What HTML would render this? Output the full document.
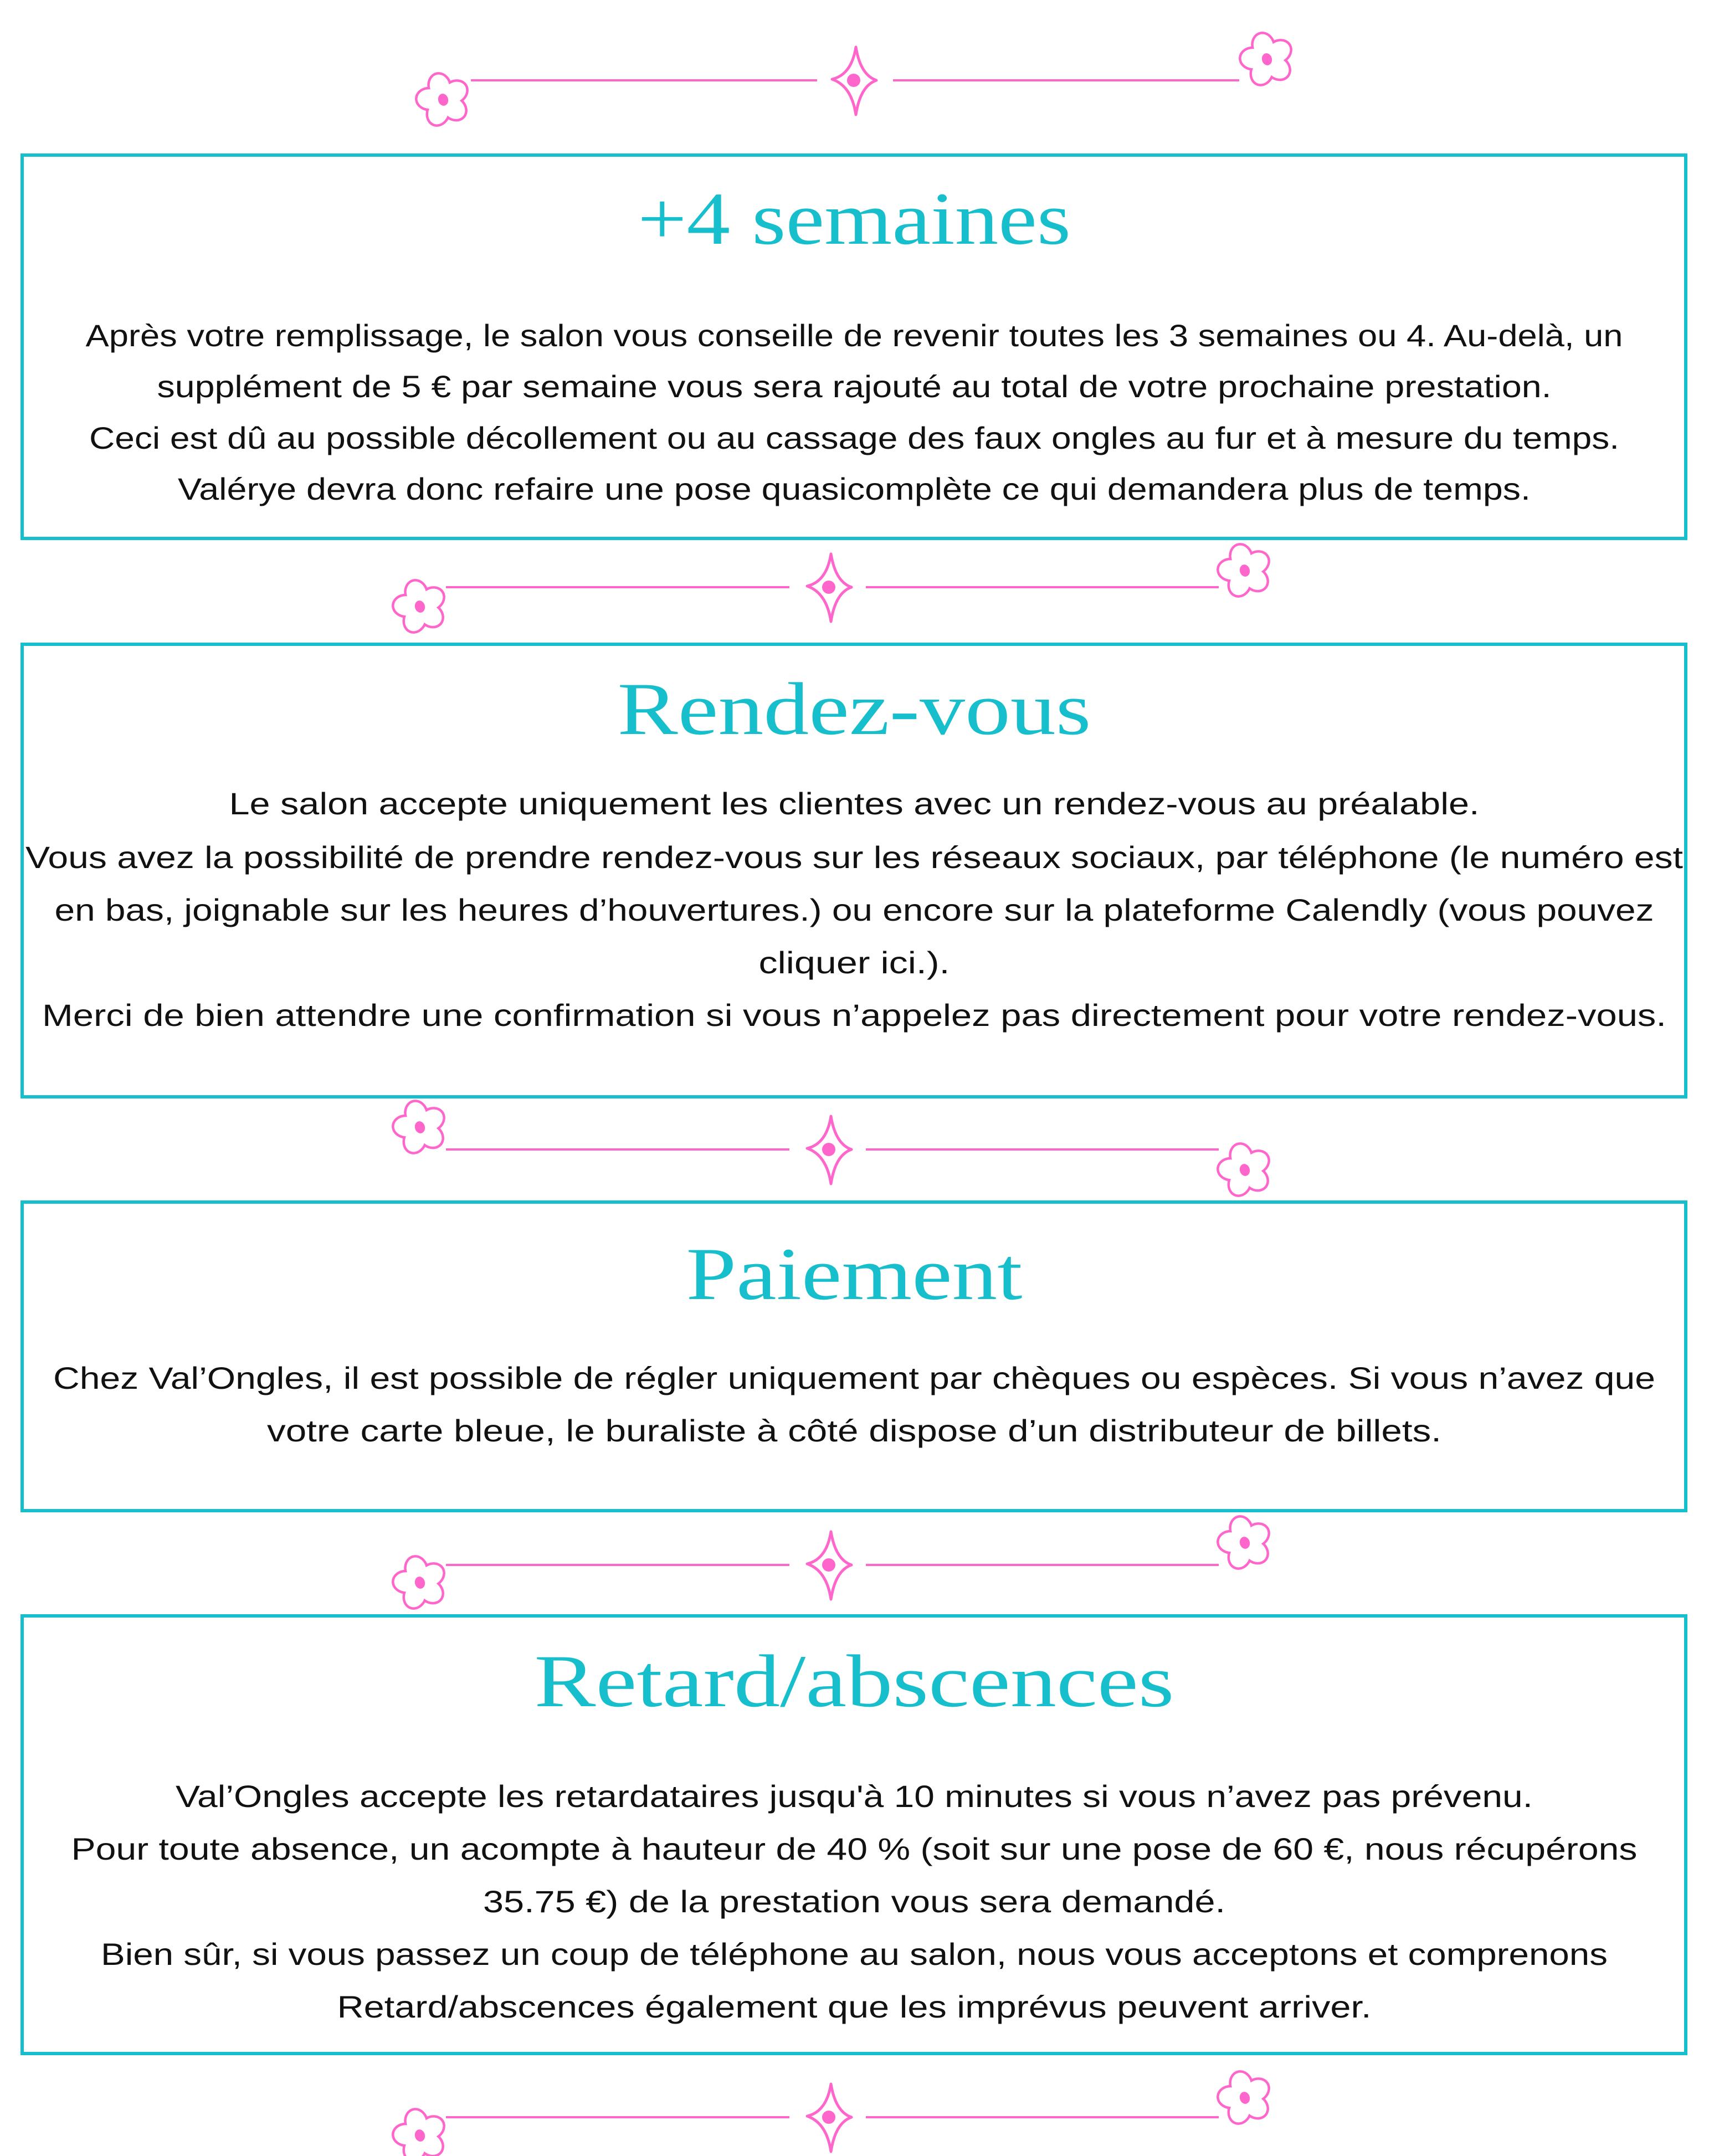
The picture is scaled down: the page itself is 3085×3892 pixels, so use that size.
<!DOCTYPE html>
<html><head><meta charset="utf-8"><style>
html,body{margin:0;padding:0;background:#fff;}
svg{display:block;}
.t{font-family:"Liberation Serif",serif;font-size:135px;fill:#17BECB;}
.b{font-family:"Liberation Sans",sans-serif;font-size:56px;fill:#111;}
</style></head><body>
<svg width="3085" height="3892" viewBox="0 0 3085 3892" xmlns="http://www.w3.org/2000/svg">
<defs>
<g id="fl" transform="rotate(-15)">
 <g fill="#FF66CC">
  <ellipse cx="0" cy="-25" rx="22" ry="26"/><ellipse cx="23.8" cy="-7.7" rx="22" ry="26" transform="rotate(72 23.8 -7.7)"/><ellipse cx="14.7" cy="20.2" rx="22" ry="26" transform="rotate(144 14.7 20.2)"/><ellipse cx="-14.7" cy="20.2" rx="22" ry="26" transform="rotate(216 -14.7 20.2)"/><ellipse cx="-23.8" cy="-7.7" rx="22" ry="26" transform="rotate(288 -23.8 -7.7)"/>
 </g>
 <g fill="#fff">
  <ellipse cx="0" cy="-25" rx="17.5" ry="21.5"/><ellipse cx="23.8" cy="-7.7" rx="17.5" ry="21.5" transform="rotate(72 23.8 -7.7)"/><ellipse cx="14.7" cy="20.2" rx="17.5" ry="21.5" transform="rotate(144 14.7 20.2)"/><ellipse cx="-14.7" cy="20.2" rx="17.5" ry="21.5" transform="rotate(216 -14.7 20.2)"/><ellipse cx="-23.8" cy="-7.7" rx="17.5" ry="21.5" transform="rotate(288 -23.8 -7.7)"/>
  <circle cx="0" cy="0" r="22"/>
 </g>
 <ellipse cx="0" cy="0" rx="9" ry="11" fill="#FF66CC"/>
</g>
<g id="st">
 <path d="M0,-60 Q8,-10 37,0 Q8,10 0,62 Q-8,10 -43,-2 Q-8,-10 0,-60Z" fill="none" stroke="#FF66CC" stroke-width="5" stroke-linejoin="round"/>
 <circle cx="-4" cy="0" r="12" fill="#FF66CC"/>
</g>
</defs>
<g stroke="#17BECB" stroke-width="6" fill="none">
 <rect x="40" y="280" width="3003" height="692"/>
 <rect x="40" y="1163" width="3003" height="817"/>
 <rect x="40" y="2170" width="3003" height="557"/>
 <rect x="40" y="2917" width="3003" height="790"/>
</g>
<g stroke="#FF66CC" stroke-width="4">
 <line x1="850" y1="145" x2="1475" y2="145"/><line x1="1612" y1="145" x2="2237" y2="145"/>
 <line x1="805" y1="1060" x2="1425" y2="1060"/><line x1="1563" y1="1060" x2="2200" y2="1060"/>
 <line x1="805" y1="2075" x2="1425" y2="2075"/><line x1="1563" y1="2075" x2="2200" y2="2075"/>
 <line x1="805" y1="2825" x2="1425" y2="2825"/><line x1="1563" y1="2825" x2="2200" y2="2825"/>
 <line x1="805" y1="3822" x2="1425" y2="3822"/><line x1="1563" y1="3822" x2="2200" y2="3822"/>
</g>
<use href="#fl" x="800" y="180"/><use href="#fl" x="2287" y="107"/><use href="#st" x="1545" y="145"/>
<use href="#fl" x="758" y="1095"/><use href="#fl" x="2247" y="1030"/><use href="#st" x="1500" y="1060"/>
<use href="#fl" x="758" y="2035"/><use href="#fl" x="2247" y="2112"/><use href="#st" x="1500" y="2075"/>
<use href="#fl" x="758" y="2857"/><use href="#fl" x="2247" y="2785"/><use href="#st" x="1500" y="2825"/>
<use href="#fl" x="758" y="3855"/><use href="#fl" x="2247" y="3787"/><use href="#st" x="1500" y="3822"/>

<g text-anchor="middle">
<text class="t" x="1542" y="440" textLength="782" lengthAdjust="spacingAndGlyphs">+4 semaines</text>
<text class="b" x="1542" y="625" textLength="2775" lengthAdjust="spacingAndGlyphs">Après votre remplissage, le salon vous conseille de revenir toutes les 3 semaines ou 4. Au-delà, un</text>
<text class="b" x="1542" y="717" textLength="2517" lengthAdjust="spacingAndGlyphs">supplément de 5 € par semaine vous sera rajouté au total de votre prochaine prestation.</text>
<text class="b" x="1542" y="810" textLength="2762" lengthAdjust="spacingAndGlyphs">Ceci est dû au possible décollement ou au cassage des faux ongles au fur et à mesure du temps.</text>
<text class="b" x="1542" y="902" textLength="2442" lengthAdjust="spacingAndGlyphs">Valérye devra donc refaire une pose quasicomplète ce qui demandera plus de temps.</text>

<text class="t" x="1542" y="1325" textLength="855" lengthAdjust="spacingAndGlyphs">Rendez-vous</text>
<text class="b" x="1542" y="1470" textLength="2257" lengthAdjust="spacingAndGlyphs">Le salon accepte uniquement les clientes avec un rendez-vous au préalable.</text>
<text class="b" x="1542" y="1567" textLength="2992" lengthAdjust="spacingAndGlyphs">Vous avez la possibilité de prendre rendez-vous sur les réseaux sociaux, par téléphone (le numéro est</text>
<text class="b" x="1542" y="1662" textLength="2887" lengthAdjust="spacingAndGlyphs">en bas, joignable sur les heures d’houvertures.) ou encore sur la plateforme Calendly (vous pouvez</text>
<text class="b" x="1542" y="1757" textLength="345" lengthAdjust="spacingAndGlyphs">cliquer ici.).</text>
<text class="b" x="1542" y="1852" textLength="2932" lengthAdjust="spacingAndGlyphs">Merci de bien attendre une confirmation si vous n’appelez pas directement pour votre rendez-vous.</text>

<text class="t" x="1542" y="2345" textLength="607" lengthAdjust="spacingAndGlyphs">Paiement</text>
<text class="b" x="1542" y="2507" textLength="2892" lengthAdjust="spacingAndGlyphs">Chez Val’Ongles, il est possible de régler uniquement par chèques ou espèces. Si vous n’avez que</text>
<text class="b" x="1542" y="2602" textLength="2120" lengthAdjust="spacingAndGlyphs">votre carte bleue, le buraliste à côté dispose d’un distributeur de billets.</text>

<text class="t" x="1542" y="3080" textLength="1155" lengthAdjust="spacingAndGlyphs">Retard/abscences</text>
<text class="b" x="1542" y="3262" textLength="2450" lengthAdjust="spacingAndGlyphs">Val’Ongles accepte les retardataires jusqu'à 10 minutes si vous n’avez pas prévenu.</text>
<text class="b" x="1542" y="3357" textLength="2827" lengthAdjust="spacingAndGlyphs">Pour toute absence, un acompte à hauteur de 40 % (soit sur une pose de 60 €, nous récupérons</text>
<text class="b" x="1542" y="3452" textLength="1340" lengthAdjust="spacingAndGlyphs">35.75 €) de la prestation vous sera demandé.</text>
<text class="b" x="1542" y="3547" textLength="2720" lengthAdjust="spacingAndGlyphs">Bien sûr, si vous passez un coup de téléphone au salon, nous vous acceptons et comprenons</text>
<text class="b" x="1542" y="3642" textLength="1867" lengthAdjust="spacingAndGlyphs">Retard/abscences également que les imprévus peuvent arriver.</text>
</g>
</svg>
</body></html>
